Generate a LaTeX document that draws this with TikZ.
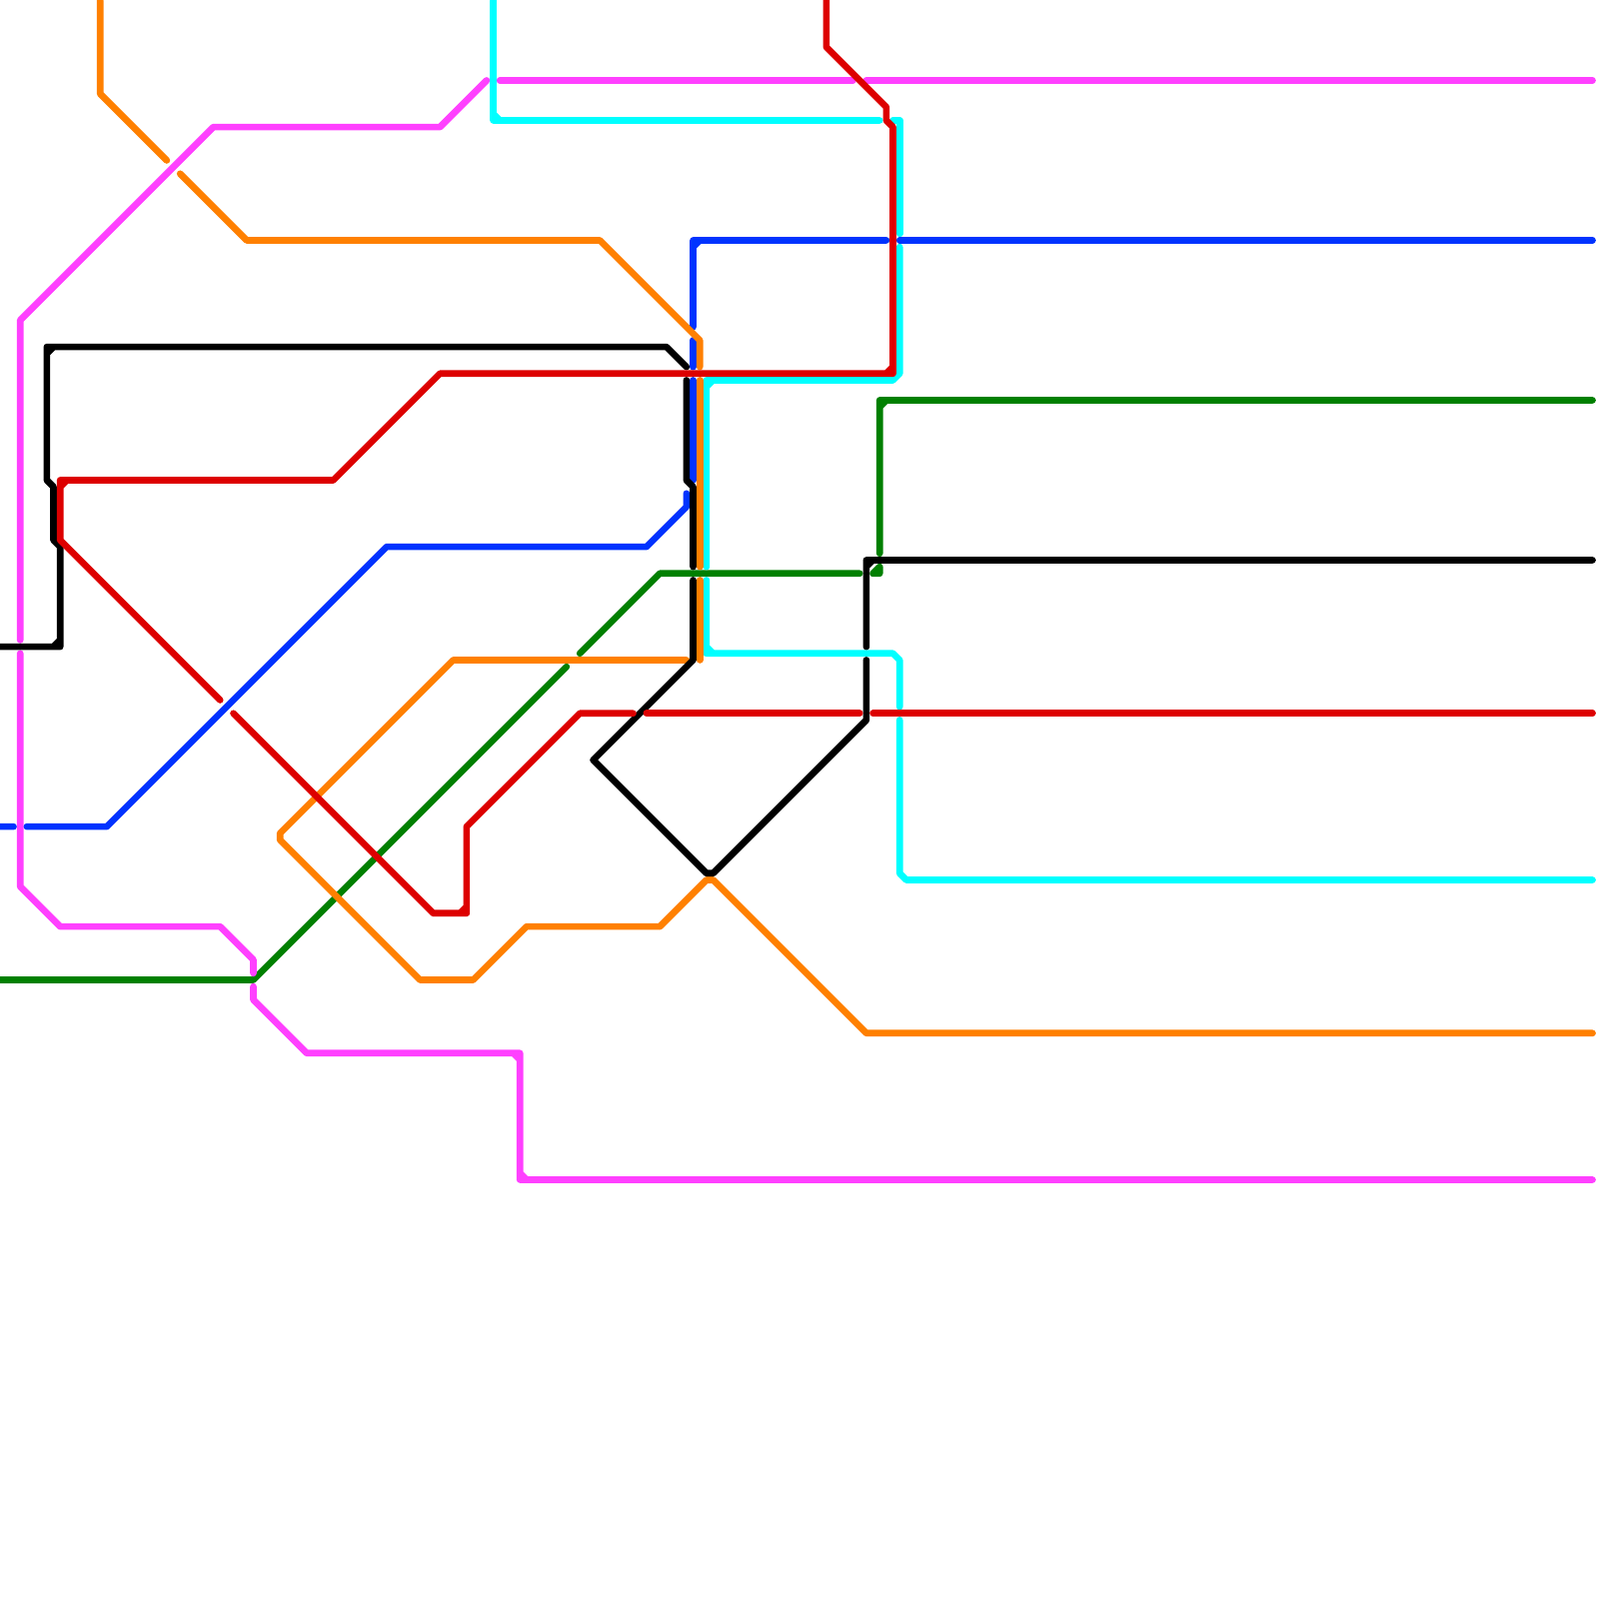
\documentclass[tikz,border=0pt]{standalone}
\definecolor{mgt}{HTML}{FF40FF}
\definecolor{cyn}{HTML}{00FFFF}
\definecolor{blu}{HTML}{0033FF}
\definecolor{org}{HTML}{FF8000}
\definecolor{rdd}{HTML}{DD0000}
\definecolor{grn}{HTML}{008000}
\tikzset{metro/.style={line width=1mm,line cap=round,line join=round,xshift=0.03mm,yshift=-0.07mm}}
\begin{document}
\begin{tikzpicture}[x=1mm,y=-1mm]
\useasboundingbox[fill=white] (0,0) rectangle (240,240);
% green
\draw[metro,grn] (0,147)--(38,147)--(85,100);
\draw[metro,grn] (87,98)--(99,86)--(129,86);
\draw[metro,grn,fill=grn] (131,86)--(132,86)--(132,85)--cycle;
\draw[metro,grn] (132,83)--(132,60)--(239,60) (132,61)--(133,60);
% magenta
\draw[metro,mgt] (75,12)--(128,12) (130,12)--(239,12);
\draw[metro,mgt] (73,12)--(66,19)--(32,19)--(3,48)--(3,96);
\draw[metro,mgt] (3,98)--(3,133)--(9,139)--(33,139)--(38,144)--(38,146);
\draw[metro,mgt] (38,148)--(38,150)--(46,158)--(78,158)--(78,177)--(239,177) (77,158)--(78,159) (78,176)--(79,177);
% cyan
\draw[metro,cyn] (74,0)--(74,18)--(132,18) (74,17)--(75,18);
\draw[metro,cyn] (134,18)--(135,18)--(135,35);
\draw[metro,cyn] (135,37)--(135,56)--(134,57)--(106,57)--(106,85) (106,58)--(107,57);
\draw[metro,cyn] (106,87)--(106,98)--(134,98)--(135,99)--(135,106) (106,97)--(107,98);
\draw[metro,cyn] (135,108)--(135,131)--(136,132)--(239,132);
% blue
\draw[metro,blu] (0,124)--(2,124) (4,124)--(16,124)--(58,82)--(97,82)--(103,76)--(103,74);
\draw[metro,blu] (104,49)--(104,36)--(133,36) (104,37)--(105,36);
\draw[metro,blu] (135,36)--(239,36);
\draw[metro,blu] (104,51)--(104,55);
\draw[metro,blu] (104,57)--(104,72);
% orange
\draw[metro,org] (15,0)--(15,14)--(25,24);
\draw[metro,org] (27,26)--(37,36)--(90,36)--(105,51)--(105,55);
\draw[metro,org] (105,57)--(105,85);
\draw[metro,org] (105,87)--(105,99);
\draw[metro,org] (103,99)--(68,99)--(42,125)--(42,126)--(63,147)--(71,147)--(79,139)--(99,139)--(106,132)--(107,132)--(130,155)--(239,155);
% black
\draw[metro,black] (0,97)--(9,97)--(9,82)--(8,81)--(8,73)--(7,72)--(7,52)--(100,52)--(103,55) (8,97)--(9,96) (7,53)--(8,52);
\draw[metro,black] (103,57)--(103,72)--(104,73)--(104,85);
\draw[metro,black] (104,87)--(104,99)--(89,114)--(106,131)--(107,131)--(130,108)--(130,99);
\draw[metro,black] (130,97)--(130,84)--(239,84) (130,85)--(131,84);
% red
\draw[metro,rdd] (124,0)--(124,7)--(133,16)--(133,18)--(134,19)--(134,56)--(66,56)--(50,72)--(9,72)--(9,81)--(33,105) (133,56)--(134,55) (9,73)--(10,72);
\draw[metro,rdd] (35,107)--(65,137)--(70,137)--(70,124)--(87,107)--(95,107) (69,137)--(70,136);
\draw[metro,rdd] (97,107)--(129,107);
\draw[metro,rdd] (131,107)--(239,107);
\end{tikzpicture}
\end{document}
